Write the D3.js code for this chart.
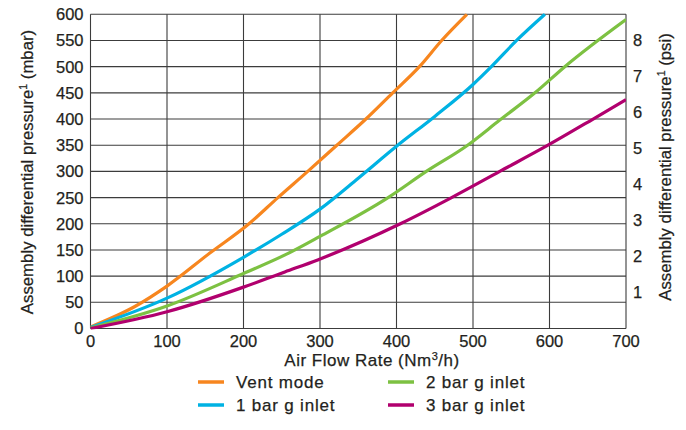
<!DOCTYPE html>
<html><head><meta charset="utf-8">
<script src="https://cdn.jsdelivr.net/npm/d3@7"></script>
<style>
body{margin:0;background:#fff;}
text{font-family:"Liberation Sans",Arial,Helvetica,sans-serif;fill:#231f20;stroke:#231f20;stroke-width:0.25px;}
</style></head>
<body><svg id="c" width="686" height="430"></svg>
<script>
const xTicks=[0,100,200,300,400,500,600,700];
const yTicks=[0,50,100,150,200,250,300,350,400,450,500,550,600];
const psiTicks=[1,2,3,4,5,6,7,8];
const seriesNames=["Vent mode","1 bar g inlet","2 bar g inlet","3 bar g inlet"];
const seriesColors=["#f7861f","#00b2e3","#7dc142","#b1006e"];
const ventMode=[[0,3],[58,42],[100,81],[156,144],[208,201],[245,250],[284,300],[322,350],[360,400],[395,450],[430,500],[459,550],[492,600]];
const bar1=[[0,2],[100,58],[200,136],[250,180],[300,228],[350,287],[400,348],[450,405],[500,466],[524,500],[557,550],[594,600]];
const bar2=[[0,1],[100,43],[200,105],[255,141],[300,176],[389,250],[439,300],[492,349],[535,398],[581,450],[620,500],[700,590]];
const bar3=[[0,0],[100,32],[200,79],[254,108],[297,131],[405,200],[472,250],[535,300],[598,350],[657,400],[700,437]];
const allSeries=[ventMode,bar1,bar2,bar3];
const MBAR_PER_PSI=68.9476;

const svg=d3.select("#c");
const L=90.5,R=626,T=14.3,B=328.5;
const x=d3.scaleLinear().domain([0,700]).range([L,R]);
const y=d3.scaleLinear().domain([0,600]).range([B,T]);

const grid=svg.append("g").attr("stroke","#3c3c3c").attr("stroke-width",1.1);
grid.selectAll("line.v").data(xTicks).join("line").attr("class","v")
 .attr("x1",d=>x(d)).attr("x2",d=>x(d)).attr("y1",T).attr("y2",B);
grid.selectAll("line.h").data(yTicks).join("line").attr("class","h")
 .attr("x1",L).attr("x2",R).attr("y1",d=>y(d)).attr("y2",d=>y(d));

const line=d3.line().x(d=>x(d[0])).y(d=>y(d[1])).curve(d3.curveMonotoneX);
svg.append("defs").append("clipPath").attr("id","clip").append("rect")
 .attr("x",L).attr("y",T-1).attr("width",R-L).attr("height",B-T+2);
svg.append("g").attr("clip-path","url(#clip)").selectAll("path").data(allSeries).join("path")
 .attr("d",line).attr("fill","none").attr("stroke",(d,i)=>seriesColors[i]).attr("stroke-width",3.2);

const fs=16.5;
svg.selectAll("text.yt").data(yTicks).join("text").attr("class","yt")
 .attr("x",L-7).attr("y",d=>y(d)).attr("dy","0.36em").attr("text-anchor","end")
 .attr("font-size",fs).text(d=>d);
svg.selectAll("text.xt").data(xTicks).join("text").attr("class","xt")
 .attr("x",d=>x(d)).attr("y",B+13).attr("dy","0.36em").attr("text-anchor","middle")
 .attr("font-size",fs).text(d=>d);
const yPsi=d3.scaleLinear().domain([0,600/MBAR_PER_PSI]).range([B,T]);
svg.selectAll("text.pt").data(psiTicks).join("text").attr("class","pt")
 .attr("x",R+7).attr("y",d=>yPsi(d)).attr("dy","0.36em").attr("text-anchor","start")
 .attr("font-size",fs).text(d=>d);

svg.append("text").attr("transform",`translate(33,172) rotate(-90)`).attr("text-anchor","middle")
 .attr("font-size",16.8).html('Assembly differential pressure<tspan font-size="10.5" dy="-6">1</tspan><tspan dy="6"> (mbar)</tspan>');
svg.append("text").attr("transform",`translate(671,167) rotate(-90)`).attr("text-anchor","middle")
 .attr("font-size",16.8).html('Assembly differential pressure<tspan font-size="10.5" dy="-6">1</tspan><tspan dy="6"> (psi)</tspan>');
svg.append("text").attr("x",372).attr("y",366).attr("text-anchor","middle")
 .attr("font-size",17).attr("letter-spacing","0.5px").html('Air Flow Rate (Nm<tspan font-size="11" dy="-6">3</tspan><tspan dy="6">/h)</tspan>');

const legX=[198,388], legY=[382,405];
const leg=svg.selectAll("g.leg").data(seriesNames).join("g").attr("class","leg")
 .attr("transform",(d,i)=>`translate(${legX[Math.floor(i/2)]},${legY[i%2]})`);
leg.append("line").attr("x1",0).attr("x2",26).attr("stroke",(d,i)=>seriesColors[i]).attr("stroke-width",3.5);
leg.append("text").attr("x",38).attr("dy","0.36em").attr("font-size",17).attr("letter-spacing","0.8px").text(d=>d);
</script></body></html>
